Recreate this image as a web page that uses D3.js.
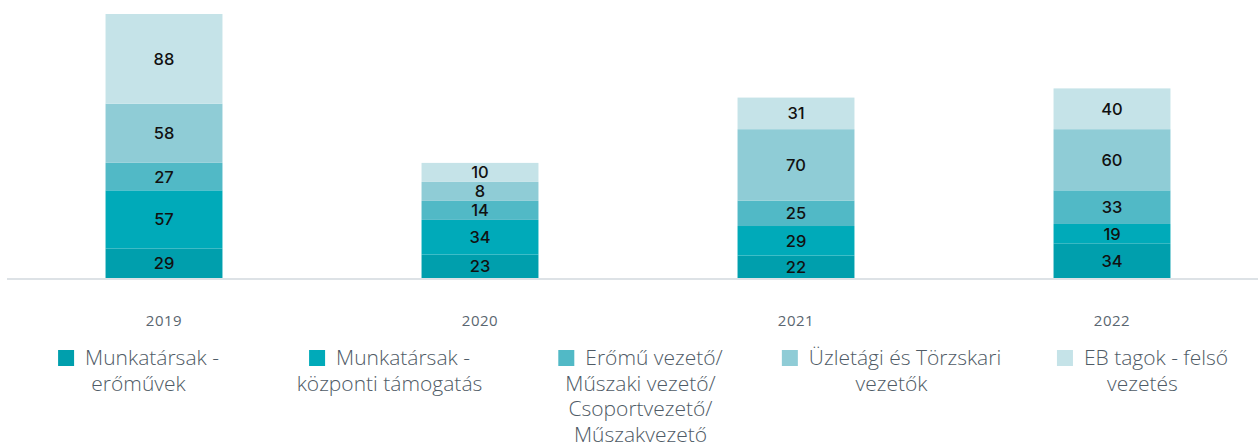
<!DOCTYPE html>
<html>
<head>
<meta charset="utf-8">
<script src="https://cdn.jsdelivr.net/npm/d3@7"></script>
<style>
  html, body { margin: 0; padding: 0; background: #ffffff; }
  svg { display: block; }
</style>
</head>
<body>
<svg id="chart" width="1258" height="447"></svg>
<script>
// Years on the category axis
const years = ["2019", "2020", "2021", "2022"];

// Headcount per group and year, bottom of the stack first
const munkatarsakEromuvek   = [29, 23, 22, 34];
const munkatarsakKozponti   = [57, 34, 29, 19];
const eromuVezeto           = [27, 14, 25, 33];
const uzletagiTorzskari     = [58, 8, 70, 60];
const ebTagok               = [88, 10, 31, 40];

// Legend labels, with their line breaks
const seriesNames = [
  "Munkatársak -\nerőművek",
  "Munkatársak -\nközponti támogatás",
  "Erőmű vezető/\nMűszaki vezető/\nCsoportvezető/\nMűszakvezető",
  "Üzletági és Törzskari\nvezetők",
  "EB tagok - felső\nvezetés"
];
const seriesColors = ["#009fad", "#00aab9", "#51b9c6", "#8fccd6", "#c5e3e8"];

const seriesValues = [munkatarsakEromuvek, munkatarsakKozponti, eromuVezeto, uzletagiTorzskari, ebTagok];
const keys = seriesNames.map((_, i) => "s" + i);
const rows = years.map((y, j) => {
  const r = { year: y };
  keys.forEach((k, i) => { r[k] = seriesValues[i][j]; });
  return r;
});

const svg = d3.select("#chart");
const baseY = 278;
const minSegment = 19;   // smallest drawn segment, so its label stays legible

const x = d3.scaleBand()
  .domain(years)
  .range([6, 1270])
  .paddingInner(0.63)
  .paddingOuter(0.315);

const totals = rows.map(r => d3.sum(keys, k => r[k]));
const y = d3.scaleLinear()
  .domain([0, d3.max(totals)])
  .range([baseY, 14]);

const stacked = d3.stack().keys(keys)(rows);

// Pixel layout of each column: segment height from the scale, with a floor
years.forEach((yr, j) => {
  let top = baseY;
  stacked.forEach(series => {
    const p = series[j];
    const h = Math.max(y(0) - y(p[1] - p[0]), minSegment);
    p.y1 = top;
    p.y0 = top - h;
    top -= h;
  });
});

// Baseline
svg.append("line")
  .attr("x1", 7).attr("x2", 1258)
  .attr("y1", baseY + 1).attr("y2", baseY + 1)
  .attr("stroke", "#dde2e6")
  .attr("stroke-width", 2);

// Stacked segments
const layer = svg.append("g").selectAll("g")
  .data(stacked)
  .join("g")
  .attr("fill", (d, i) => seriesColors[i]);

layer.selectAll("rect")
  .data(d => d)
  .join("rect")
  .attr("x", d => x(d.data.year))
  .attr("width", x.bandwidth())
  .attr("y", d => d.y0)
  .attr("height", d => d.y1 - d.y0);

// Value labels
layer.selectAll("text")
  .data(d => d)
  .join("text")
  .attr("x", d => x(d.data.year) + x.bandwidth() / 2)
  .attr("y", d => (d.y0 + d.y1) / 2)
  .attr("dy", "0.36em")
  .attr("text-anchor", "middle")
  .attr("fill", "#111111")
  .attr("font-family", "Inter, 'Noto Sans', sans-serif")
  .attr("font-weight", 500)
  .attr("font-size", 16.5)
  .text(d => d[1] - d[0]);

// Category axis (labels only)
const xAxis = svg.append("g")
  .attr("transform", `translate(0, 315)`)
  .call(d3.axisBottom(x).tickSize(0).tickPadding(0));
xAxis.select(".domain").remove();
xAxis.selectAll("text")
  .attr("fill", "#5a6670")
  .attr("font-family", "'Open Sans', 'Noto Sans', sans-serif")
  .attr("font-weight", 400)
  .attr("font-size", 15)
  .attr("letter-spacing", 0.5)
  .attr("dy", "0.71em")
  .attr("y", 0);

// Legend
const legendStep = 251;
const legendStart = 138.5;
const lineH = 25.5;
const sq = 16, gap = 11;
const legend = svg.append("g")
  .attr("font-family", "'Open Sans', 'Noto Sans', sans-serif")
  .attr("font-weight", 300)
  .attr("font-size", 21)
  .attr("fill", "#4f5b66");

seriesNames.forEach((name, i) => {
  const cx = legendStart + legendStep * i;
  const lines = name.split("\n");
  const g = legend.append("g");
  const first = g.append("text")
    .attr("y", 358)
    .attr("dy", "0.35em")
    .text(lines[0]);
  const w = first.node().getComputedTextLength();
  const total = sq + gap + w;
  const left = cx - total / 2;
  g.insert("rect", "text")
    .attr("x", left)
    .attr("y", 350)
    .attr("width", sq)
    .attr("height", sq)
    .attr("fill", seriesColors[i]);
  first.attr("x", left + sq + gap);
  lines.slice(1).forEach((ln, k) => {
    g.append("text")
      .attr("x", cx)
      .attr("y", 358 + lineH * (k + 1))
      .attr("dy", "0.35em")
      .attr("text-anchor", "middle")
      .text(ln);
  });
});
</script>
</body>
</html>
